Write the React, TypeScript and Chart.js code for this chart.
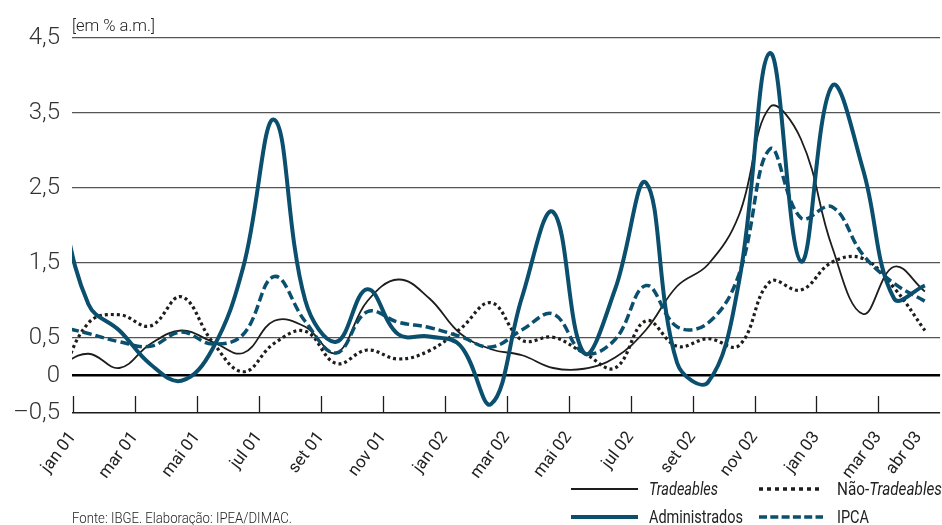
import React, { useEffect, useRef } from 'react';
import { Chart, registerables } from 'chart.js';

Chart.register(...registerables);

// Monthly series (% a.m.), dez 00 .. abr 03 (dez 00 is only partly visible at the left edge)
const months = [
  'dez 00', 'jan 01', 'fev 01', 'mar 01', 'abr 01', 'mai 01', 'jun 01', 'jul 01', 'ago 01', 'set 01', 'out 01', 'nov 01', 'dez 01',
  'jan 02', 'fev 02', 'mar 02', 'abr 02', 'mai 02', 'jun 02', 'jul 02', 'ago 02', 'set 02', 'out 02', 'nov 02', 'dez 02',
  'jan 03', 'fev 03', 'mar 03', 'abr 03',
];
const tradeables = [
  0.12, 0.29, 0.1, 0.42, 0.6, 0.45, 0.3, 0.73, 0.65, 0.3, 0.99, 1.28, 1.03,
  0.56, 0.35, 0.27, 0.1, 0.09, 0.24, 0.61, 1.19, 1.48, 2.14, 3.58, 3.15,
  1.72, 0.82, 1.45, 1.12,
];
const naoTradeables = [
  -0.15, 0.7, 0.81, 0.66, 1.05, 0.45, 0.05, 0.43, 0.59, 0.16, 0.34, 0.22, 0.33,
  0.62, 0.97, 0.47, 0.51, 0.3, 0.1, 0.73, 0.39, 0.49, 0.4, 1.25, 1.14,
  1.51, 1.56, 1.17, 0.6,
];
const administrados = [
  2.5, 0.95, 0.6, 0.15, -0.07, 0.35, 1.45, 3.41, 1.0, 0.45, 1.15, 0.55, 0.52,
  0.4, -0.38, 1.05, 2.18, 0.3, 1.15, 2.57, 0.17, -0.09, 1.25, 4.3, 1.52,
  3.86, 2.75, 1.03, 1.2,
];
const ipca = [
  0.66, 0.56, 0.45, 0.39, 0.58, 0.42, 0.55, 1.32, 0.72, 0.3, 0.85, 0.71, 0.64,
  0.52, 0.38, 0.61, 0.82, 0.3, 0.48, 1.2, 0.65, 0.7, 1.35, 3.02, 2.1,
  2.25, 1.61, 1.23, 0.99,
];

// X axis: tick labels at month starts (month index from jan 01)
const tickLabels = ['jan 01', 'mar 01', 'mai 01', 'jul 01', 'set 01', 'nov 01', 'jan 02', 'mar 02', 'mai 02', 'jul 02', 'set 02', 'nov 02', 'jan 03', 'mar 03', 'abr 03'];
const tickMonths = [0, 2, 4, 6, 8, 10, 12, 14, 16, 18, 20, 22, 24, 26, 27.3];
const tickMarked = [true, true, true, true, true, true, true, true, true, true, true, true, true, true, false];

// Y axis
const yTickValues = [-0.5, 0, 0.5, 1.5, 2.5, 3.5, 4.5];
const yTickLabels = ['\u20130,5', '0', '0,5', '1,5', '2,5', '3,5', '4,5'];

const BLUE = '#0b4f6e';
const DARK = '#1d1d1b';
const FONT = "Roboto, 'Liberation Sans', sans-serif";

// monthly values are plotted at mid-month
const toPoints = (vals: number[]) => vals.map((v, i) => ({ x: i - 0.5, y: v }));

const tickMarksPlugin = {
  id: 'tickMarks',
  beforeDatasetsDraw(chart: any) {
    const s = chart.scales.x;
    const { ctx, chartArea } = chart;
    ctx.save();
    ctx.strokeStyle = DARK;
    ctx.lineWidth = 1.3;
    tickMonths.forEach((m, k) => {
      if (!tickMarked[k]) return;
      const px = Math.round(s.getPixelForValue(m)) + 0.5;
      ctx.beginPath();
      ctx.moveTo(px, chartArea.bottom);
      ctx.lineTo(px, chartArea.bottom - 17);
      ctx.stroke();
    });
    ctx.restore();
  },
};

export default function App() {
  const ref = useRef<HTMLCanvasElement>(null);

  useEffect(() => {
    if (!ref.current) return;
    const chart = new Chart(ref.current, {
      type: 'line',
      data: {
        datasets: [
          {
            label: 'Administrados',
            data: toPoints(administrados),
            borderColor: BLUE,
            borderWidth: 4,
            tension: 0.4,
            pointRadius: 0,
            clip: 0,
          },
          {
            label: 'IPCA',
            data: toPoints(ipca),
            borderColor: BLUE,
            borderWidth: 3.5,
            borderDash: [9, 4],
            tension: 0.4,
            pointRadius: 0,
            clip: 0,
          },
          {
            label: 'Tradeables',
            data: toPoints(tradeables),
            borderColor: DARK,
            borderWidth: 1.8,
            tension: 0.4,
            pointRadius: 0,
            clip: 0,
          },
          {
            label: 'Não-Tradeables',
            data: toPoints(naoTradeables),
            borderColor: DARK,
            borderWidth: 3.2,
            borderDash: [3, 3],
            tension: 0.4,
            pointRadius: 0,
            clip: 0,
          },
        ],
      },
      options: {
        responsive: false,
        animation: false,
        devicePixelRatio: 1,
        layout: { padding: { top: 38, left: 0, right: 0, bottom: 0 } },
        plugins: { legend: { display: false }, tooltip: { enabled: false }, title: { display: false } },
        scales: {
          x: {
            type: 'linear',
            min: -0.03,
            max: 27.99,
            afterBuildTicks: (s: any) => {
              s.ticks = tickMonths.map((v) => ({ value: v }));
            },
            afterFit: (s: any) => {
              s.height = 112;
            },
            grid: { display: false },
            border: { display: false },
            ticks: {
              autoSkip: false,
              maxRotation: 53,
              minRotation: 53,
              padding: 7,
              color: '#222',
              font: { family: FONT, size: 17, weight: '400' },
              callback: (_v: any, i: number) => tickLabels[i],
            },
          },
          y: {
            type: 'linear',
            min: -0.5,
            max: 4.5,
            afterBuildTicks: (s: any) => {
              s.ticks = yTickValues.map((v) => ({ value: v }));
            },
            afterFit: (s: any) => {
              s.width = 72;
            },
            border: { display: false },
            grid: {
              drawTicks: false,
              color: (c: any) => (c.tick && c.tick.value === 0 ? '#000' : c.tick && c.tick.value === -0.5 ? '#1a1a1a' : '#555'),
              lineWidth: (c: any) => (c.tick && c.tick.value === 0 ? 2.6 : c.tick && c.tick.value === -0.5 ? 1.6 : 1.2),
            },
            ticks: {
              padding: 12,
              color: '#333',
              font: { family: FONT, size: 24, weight: '300' },
              callback: (_v: any, i: number) => yTickLabels[i],
            },
          },
        },
      },
      plugins: [tickMarksPlugin],
    } as any);
    return () => chart.destroy();
  }, []);

  const t = { lengthAdjust: 'spacingAndGlyphs' as const };

  return (
    <div style={{ position: 'absolute', left: 0, top: 0, width: 942, height: 525, background: '#fff', overflow: 'hidden' }}>
      <canvas ref={ref} width={942} height={525} style={{ position: 'absolute', left: 0, top: 0, width: 942, height: 525 }} />
      <svg width={942} height={525} style={{ position: 'absolute', left: 0, top: 0, pointerEvents: 'none' }}>
        <g fontFamily={FONT} fontWeight={400} fill="#222">
          <text x={72} y={31} fontSize={17} fontWeight={300} textLength={83} {...t}>[em % a.m.]</text>
          <text x={72} y={523} fontSize={15.5} fontWeight={300} textLength={220} {...t}>Fonte: IBGE. Elaboração: IPEA/DIMAC.</text>
          {/* legend */}
          <line x1={571} y1={489} x2={638} y2={489} stroke={DARK} strokeWidth={2} />
          <text x={649} y={495} fontSize={17.5} fontStyle="italic" textLength={69} {...t}>Tradeables</text>
          <line x1={759} y1={489} x2={823} y2={489} stroke={DARK} strokeWidth={3.5} strokeDasharray="4 4" />
          <text x={837} y={495} fontSize={17.5} textLength={105} {...t}>
            Não-<tspan fontStyle="italic">Tradeables</tspan>
          </text>
          <line x1={571} y1={517} x2={638} y2={517} stroke={BLUE} strokeWidth={4} />
          <text x={649} y={523} fontSize={17.5} textLength={94} {...t}>Administrados</text>
          <line x1={759} y1={517} x2={823} y2={517} stroke={BLUE} strokeWidth={3.5} strokeDasharray="8 3.3" />
          <text x={837} y={523} fontSize={17.5} textLength={32} {...t}>IPCA</text>
        </g>
      </svg>
    </div>
  );
}
